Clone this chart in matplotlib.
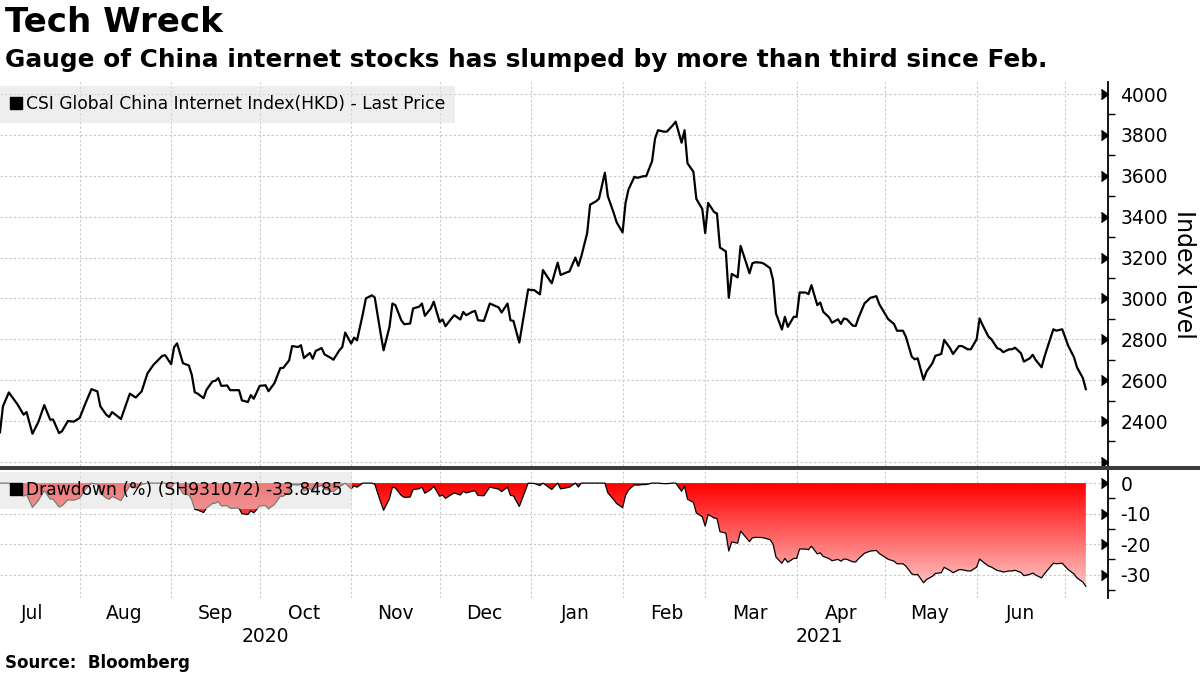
import numpy as np
import pandas as pd
import matplotlib
matplotlib.use("Agg")
import matplotlib.pyplot as plt
import matplotlib.dates as mdates
import matplotlib.transforms as mtransforms
from matplotlib.lines import Line2D
from matplotlib.patches import Rectangle
from matplotlib.colors import LinearSegmentedColormap

plt.rcParams["axes.unicode_minus"] = False

# CSI Global China Internet Index (HKD)
dates = [
    "2020-07-05", "2020-07-06", "2020-07-08", "2020-07-11", "2020-07-13", "2020-07-14", "2020-07-16", "2020-07-18",
    "2020-07-20", "2020-07-22", "2020-07-23", "2020-07-25", "2020-07-26", "2020-07-28", "2020-07-30",
    "2020-08-01", "2020-08-03", "2020-08-05", "2020-08-07", "2020-08-08", "2020-08-10", "2020-08-11", "2020-08-12",
    "2020-08-15", "2020-08-18", "2020-08-20", "2020-08-22", "2020-08-24", "2020-08-26", "2020-08-29", "2020-08-30",
    "2020-09-01", "2020-09-02", "2020-09-03", "2020-09-05", "2020-09-07", "2020-09-08", "2020-09-09", "2020-09-10",
    "2020-09-12", "2020-09-13", "2020-09-15", "2020-09-16", "2020-09-17", "2020-09-18", "2020-09-20", "2020-09-21",
    "2020-09-24", "2020-09-25", "2020-09-27", "2020-09-28", "2020-09-29",
    "2020-10-01", "2020-10-03", "2020-10-04", "2020-10-06", "2020-10-08", "2020-10-09", "2020-10-11", "2020-10-12",
    "2020-10-14", "2020-10-15", "2020-10-16", "2020-10-18", "2020-10-19", "2020-10-20", "2020-10-22", "2020-10-23",
    "2020-10-25", "2020-10-26", "2020-10-28", "2020-10-29", "2020-10-30",
    "2020-11-01", "2020-11-02", "2020-11-03", "2020-11-05", "2020-11-06", "2020-11-08", "2020-11-09", "2020-11-11",
    "2020-11-12", "2020-11-14", "2020-11-15", "2020-11-16", "2020-11-18", "2020-11-19", "2020-11-21", "2020-11-22",
    "2020-11-24", "2020-11-25", "2020-11-26", "2020-11-28", "2020-11-29",
    "2020-12-01", "2020-12-02", "2020-12-03", "2020-12-05", "2020-12-06", "2020-12-08", "2020-12-09", "2020-12-10",
    "2020-12-12", "2020-12-13", "2020-12-14", "2020-12-16", "2020-12-18", "2020-12-20", "2020-12-21", "2020-12-22",
    "2020-12-24", "2020-12-25", "2020-12-26", "2020-12-28", "2020-12-31",
    "2021-01-01", "2021-01-02", "2021-01-04", "2021-01-05", "2021-01-07", "2021-01-08", "2021-01-10", "2021-01-11",
    "2021-01-13", "2021-01-14", "2021-01-16", "2021-01-17", "2021-01-18", "2021-01-20", "2021-01-21", "2021-01-23",
    "2021-01-24", "2021-01-26", "2021-01-27", "2021-01-29", "2021-01-30",
    "2021-02-01", "2021-02-02", "2021-02-03", "2021-02-05", "2021-02-06", "2021-02-08", "2021-02-09", "2021-02-11",
    "2021-02-12", "2021-02-13", "2021-02-15", "2021-02-16", "2021-02-18", "2021-02-19", "2021-02-21", "2021-02-22",
    "2021-02-23", "2021-02-25", "2021-02-26", "2021-02-28",
    "2021-03-01", "2021-03-02", "2021-03-04", "2021-03-05", "2021-03-06", "2021-03-08", "2021-03-09", "2021-03-10",
    "2021-03-12", "2021-03-13", "2021-03-15", "2021-03-16", "2021-03-17", "2021-03-18", "2021-03-20", "2021-03-21",
    "2021-03-23", "2021-03-24", "2021-03-25", "2021-03-27", "2021-03-28", "2021-03-29", "2021-03-31",
    "2021-04-01", "2021-04-02", "2021-04-04", "2021-04-05", "2021-04-06", "2021-04-08", "2021-04-09", "2021-04-10",
    "2021-04-12", "2021-04-13", "2021-04-15", "2021-04-16", "2021-04-17", "2021-04-18", "2021-04-20", "2021-04-21",
    "2021-04-22", "2021-04-24", "2021-04-25", "2021-04-26", "2021-04-28", "2021-04-29",
    "2021-05-01", "2021-05-02", "2021-05-04", "2021-05-05", "2021-05-07", "2021-05-08", "2021-05-10", "2021-05-11",
    "2021-05-12", "2021-05-14", "2021-05-15", "2021-05-17", "2021-05-18", "2021-05-20", "2021-05-21", "2021-05-23",
    "2021-05-24", "2021-05-26", "2021-05-27", "2021-05-29", "2021-05-30",
    "2021-06-01", "2021-06-02", "2021-06-03", "2021-06-05", "2021-06-06", "2021-06-08", "2021-06-09", "2021-06-10",
    "2021-06-12", "2021-06-13", "2021-06-14", "2021-06-16", "2021-06-17", "2021-06-19", "2021-06-20", "2021-06-21",
    "2021-06-23", "2021-06-24", "2021-06-25", "2021-06-27", "2021-06-28", "2021-06-30",
    "2021-07-01", "2021-07-02", "2021-07-04", "2021-07-05", "2021-07-07", "2021-07-08",
]
price = [
    2345, 2472, 2540, 2480, 2431, 2444, 2338, 2395, 2478, 2407, 2407, 2341, 2350, 2400, 2397,
    2415, 2488, 2556, 2545, 2472, 2431, 2420, 2444, 2410, 2534, 2515, 2545, 2634, 2675, 2719, 2722,
    2678, 2761, 2780, 2683, 2672, 2626, 2541, 2534, 2512, 2553, 2594, 2597, 2610, 2572, 2574, 2551,
    2551, 2501, 2493, 2527, 2509,
    2572, 2575, 2546, 2585, 2659, 2660, 2697, 2767, 2762, 2771, 2708, 2733, 2705, 2743, 2757, 2726,
    2710, 2700, 2746, 2762, 2833,
    2779, 2808, 2795, 2926, 3000, 3015, 3005, 2828, 2746, 2861, 2975, 2967, 2893, 2874, 2877, 2951,
    2959, 2975, 2915, 2951, 2984,
    2885, 2897, 2864, 2902, 2918, 2897, 2934, 2918, 2934, 2939, 2893, 2890, 2975, 2962, 2956, 2931,
    2975, 2893, 2890, 2784, 3044,
    3041, 3041, 3020, 3139, 3095, 3074, 3175, 3115, 3127, 3132, 3200, 3159, 3205, 3320, 3459, 3475,
    3488, 3615, 3500, 3418, 3372,
    3323, 3467, 3533, 3595, 3590, 3598, 3598, 3672, 3782, 3823, 3816, 3816, 3847, 3865, 3762, 3823,
    3661, 3620, 3487, 3438,
    3320, 3467, 3423, 3415, 3249, 3230, 3003, 3120, 3103, 3257, 3169, 3123, 3172, 3177, 3175, 3169,
    3148, 3090, 2926, 2848, 2910, 2861, 2910,
    2910, 3029, 3029, 3021, 3065, 2967, 2980, 2935, 2907, 2881, 2898, 2875, 2902, 2898, 2867, 2865,
    2907, 2976, 2989, 3003, 3011, 2972,
    2924, 2899, 2875, 2842, 2842, 2813, 2715, 2702, 2707, 2602, 2642, 2683, 2719, 2728, 2797, 2756,
    2728, 2767, 2767, 2751, 2751,
    2800, 2902, 2870, 2813, 2800, 2756, 2751, 2737, 2751, 2751, 2759, 2732, 2691, 2707, 2724, 2699,
    2663, 2715, 2761, 2849, 2842, 2849,
    2810, 2769, 2712, 2663, 2610, 2556,
]

price_ticks = [2200, 2400, 2600, 2800, 3000, 3200, 3400, 3600, 3800, 4000]
dd_ticks = [0, -10, -20, -30]
price_label = "CSI Global China Internet Index(HKD) - Last Price"
dd_label = "Drawdown (%) (SH931072) -33.8485"

s = pd.Series(price, index=pd.to_datetime(dates), dtype=float)
drawdown = (s / s.cummax() - 1) * 100

FS = 13.5
GRID = dict(color="#c8c8c8", linestyle=(0, (2, 2)), linewidth=0.8)

fig = plt.figure(figsize=(12, 6.75), dpi=100, facecolor="white")
ax = fig.add_axes([0, 0.30963, 0.9233, 0.56889])
ax2 = fig.add_axes([0, 0.11407, 0.9233, 0.18963], sharex=ax)

xmin, xmax = pd.Timestamp("2020-07-05"), pd.Timestamp("2021-07-15 12:00")

# --- top panel: price line
ax.plot(s.index, s.values, color="black", lw=1.6, zorder=3)
ax.set_ylim(2180, 4059)
ax.set_yticks(price_ticks)
ax.set_yticklabels(["" if t == 2200 else str(t) for t in price_ticks])
ax.yaxis.set_minor_locator(matplotlib.ticker.MultipleLocator(100))
ax.set_ylabel("Index level", rotation=270, fontsize=17, labelpad=20)
ax.yaxis.set_label_position("right")

# --- bottom panel: drawdown with vertical gradient
poly = ax2.fill_between(s.index, drawdown.values, 0, facecolor="none", edgecolor="none")
cmap = LinearSegmentedColormap.from_list("dd", ["#ff0000", "#ffcccc"])
grad = np.linspace(0, 1, 256).reshape(-1, 1)
im = ax2.imshow(grad, cmap=cmap, aspect="auto", origin="upper", zorder=1,
                extent=[mdates.date2num(xmin), mdates.date2num(xmax), -35, 0])
im.set_clip_path(poly.get_paths()[0], transform=ax2.transData)
ax2.plot(s.index, drawdown.values, color="black", lw=0.9, zorder=2)
ax2.set_ylim(-37.7, 4.3)
ax2.set_yticks(dd_ticks)
ax2.yaxis.set_minor_locator(matplotlib.ticker.MultipleLocator(5))

for a in (ax, ax2):
    a.set_xlim(xmin, xmax)
    a.set_axisbelow(True)
    for side in ("top", "left", "bottom"):
        a.spines[side].set_visible(False)
    a.spines["right"].set_linewidth(1.3)
    a.yaxis.tick_right()
    a.tick_params(axis="y", which="major", length=0, pad=9, labelsize=FS)
    a.tick_params(axis="y", which="minor", length=5, width=1.0, direction="out")
    a.grid(True, which="major", axis="both", **GRID)
    a.xaxis.set_major_locator(mdates.MonthLocator())
    a.xaxis.set_minor_locator(mdates.MonthLocator(bymonthday=16))
    a.xaxis.set_major_formatter(matplotlib.ticker.NullFormatter())
    a.xaxis.set_minor_formatter(mdates.DateFormatter("%b"))
    a.tick_params(axis="x", which="both", length=0)
    # triangular major tick marks on the right axis
    a.plot(np.ones(len(a.get_yticks())), a.get_yticks(), marker=5, markersize=6.5, color="black",
           linestyle="none", transform=a.get_yaxis_transform(), clip_on=False, zorder=5)

ax.tick_params(axis="x", which="both", labelbottom=False)
ax2.tick_params(axis="x", which="minor", labelsize=FS, pad=4)

# legends
for a, lab in ((ax, price_label), (ax2, dd_label)):
    h = Line2D([], [], marker="s", color="black", linestyle="none", markersize=8)
    leg = a.legend([h], [lab], loc="upper left", bbox_to_anchor=(0, 0.99 if a is ax else 0.985),
                   borderaxespad=0, fancybox=False, facecolor="#e0e0e0", framealpha=0.55,
                   edgecolor="none", handletextpad=0.2, handlelength=0.8, borderpad=0.55,
                   fontsize=12.3)
    leg.set_zorder(6)

# year labels centred under each year's span
trans = mtransforms.blended_transform_factory(ax2.transData, fig.transFigure)
ny = pd.Timestamp("2021-01-01")
for a0, a1, yr in ((xmin, ny, "2020"), (ny, xmax, "2021")):
    ax2.text(a0 + (a1 - a0) / 2, 1 - 637 / 675, yr, transform=trans, ha="center", va="center",
             fontsize=FS)

# separator bar between the panels
fig.patches.append(Rectangle((0, 1 - 470 / 675), 1, 4 / 675, transform=fig.transFigure,
                             facecolor="#3c3c3c", edgecolor="none"))

fig.text(0.004, 1 - 22 / 675, "Tech Wreck", fontsize=24.5, fontweight="bold", va="center")
fig.text(0.004, 1 - 60 / 675,
         "Gauge of China internet stocks has slumped by more than third since Feb.",
         fontsize=17.8, fontweight="bold", va="center")
fig.text(0.004, 1 - 663 / 675, "Source:  Bloomberg", fontsize=12, fontweight="bold", va="center")

fig.savefig("out.png", dpi=100, facecolor="white")
